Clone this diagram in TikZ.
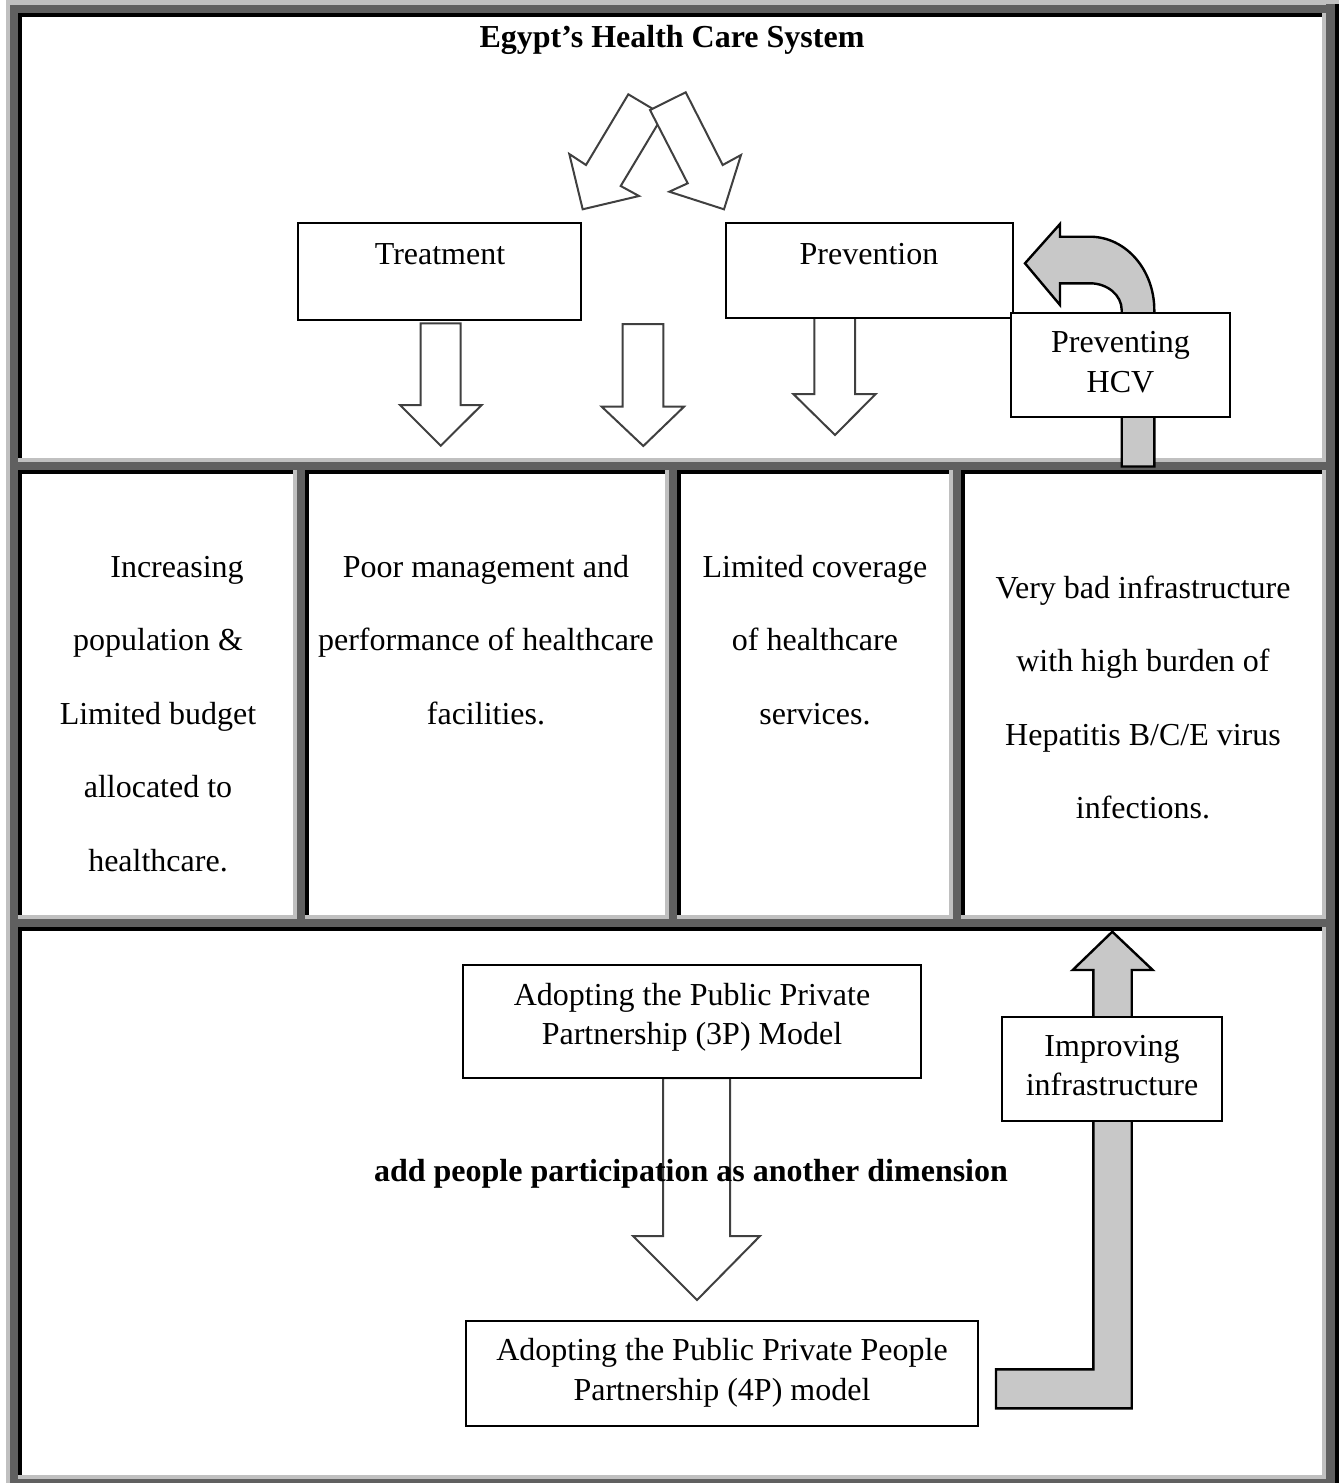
\documentclass[tikz,border=0pt]{standalone}
\usepackage{fontspec}
\setmainfont{Liberation Serif}
\definecolor{bandlight}{RGB}{192,192,192}
\definecolor{banddark}{RGB}{96,96,96}
\definecolor{arrowfill}{RGB}{200,200,200}
\definecolor{arrowline}{RGB}{64,64,64}
% one table cell: dark/black rule on top and left, light rule on right and bottom
\newcommand\cellframe[4]{%
  \fill[banddark] (#1,#2) rectangle (#3,#2+8);
  \fill[banddark] (#1,#2) rectangle (#1+8,#4);
  \fill[bandlight] (#3-4,#2+8) rectangle (#3,#4);
  \fill[bandlight] (#1+8,#4-4) rectangle (#3,#4);
  \fill[black] (#1+8,#2+8) rectangle (#3-4,#2+12);
  \fill[black] (#1+8,#2+8) rectangle (#1+12,#4-4);
}
\begin{document}
\begin{tikzpicture}[x=0.5pt,y=-0.5pt,
  box/.style={draw=black,line width=0.9pt,fill=white,inner sep=0pt},
  txt/.style={inner sep=0pt,anchor=base,align=flush center,font=\fontsize{16pt}{19.5pt}\selectfont},
  celltxt/.style={inner sep=0pt,anchor=base,align=flush center,font=\fontsize{16pt}{36.75pt}\selectfont},
  hollow/.style={draw=arrowline,line width=1pt,fill=white,line join=miter},
  grayarrow/.style={draw=black,line width=1.2pt,fill=arrowfill,line join=miter}]
\useasboundingbox (0,0) rectangle (1341,1483);
\fill[white] (0,0) rectangle (1341,1483);

% outer table frame
\fill[bandlight] (6,0) rectangle (1339,4.5);
\fill[bandlight] (6,0) rectangle (10,1483);
\fill[banddark] (1326,4) rectangle (1335,1483);
\fill[black] (1335,4) rectangle (1339,1483);
\fill[banddark] (10,1479) rectangle (1335,1483);

% cells
\cellframe{10}{4.5}{1326}{462}
\cellframe{10}{462}{297}{919}
\cellframe{297}{462}{669}{919}
\cellframe{669}{462}{953}{919}
\cellframe{953}{462}{1326}{919}
\cellframe{10}{919}{1326}{1479}

% ---------- top row ----------
\node[txt,font=\fontsize{16pt}{19.5pt}\selectfont\bfseries] (title) at (672,47) {Egypt’s Health Care System};

% two crossing arrows
\filldraw[hollow] (628.3,94.3) -- (586,165) -- (569.3,154) -- (582.7,209.3) -- (639,196) -- (620.7,186) -- (663.2,115.1) -- cycle;
\filldraw[hollow] (650,110) -- (685.7,92.3) -- (722.7,165) -- (741,155) -- (724,209.3) -- (669.3,191.7) -- (687.7,183.3) -- cycle;

% downward arrows
\filldraw[hollow] (420.7,323.3) -- (460.7,323.3) -- (460.7,405) -- (481.7,405) -- (440.7,445.7) -- (400,405) -- (420.7,405) -- cycle;
\filldraw[hollow] (622.7,324) -- (663.3,324) -- (663.3,406.7) -- (684,406.7) -- (643.3,446) -- (601.7,406.7) -- (622.7,406.7) -- cycle;
\filldraw[hollow] (814.3,316) -- (855,316) -- (855,394) -- (875.7,394) -- (835,435) -- (793.3,394) -- (814.3,394) -- cycle;

\node[box,minimum width=141.5pt,minimum height=48.5pt] (treat) at (439.5,271.5) {};
\node[box,minimum width=143.5pt,minimum height=47.5pt] (prev) at (869.5,270.5) {};
\node[txt] (treatlbl) at (440,264) {Treatment};
\node[txt] (prevlbl) at (869,264) {Prevention};

% curved arrow back to prevention
\filldraw[grayarrow] (1121.7,466.5) -- (1121.7,310)
  arc[start angle=0,end angle=-90,x radius=31.7,y radius=26.7]
  -- (1060,283.3) -- (1060,305) -- (1025,263.3) -- (1060,224) -- (1060,236.7) -- (1090,236.7)
  arc[start angle=-90,end angle=0,x radius=64.3,y radius=73.3]
  -- (1154.3,466.5) -- cycle;
\node[box,minimum width=109.5pt,minimum height=52pt] (hcv) at (1120.5,365) {};
\node[txt,text width=100pt,font=\fontsize{16pt}{20pt}\selectfont] (hcvlbl) at (1120.5,352) {Preventing\\HCV};

% ---------- middle row ----------
\node[celltxt,text width=130pt] (c1) at (158,577) {\hspace*{19pt}Increasing\\population \&\\Limited budget\\allocated to\\healthcare.};
\node[celltxt,text width=178pt] (c2) at (486,577) {Poor management and\\performance of healthcare\\facilities.};
\node[celltxt,text width=130pt] (c3) at (815,577) {Limited coverage\\of healthcare\\services.};
\node[celltxt,text width=170pt] (c4) at (1143,598) {Very bad infrastructure\\with high burden of\\Hepatitis B/C/E virus\\infections.};

% ---------- bottom row ----------
\filldraw[hollow] (663,1078) -- (730,1078) -- (730,1236) -- (760,1236) -- (697,1300) -- (633,1236) -- (663,1236) -- cycle;
\node[box,minimum width=229pt,minimum height=56.5pt] (p3) at (692,1021.5) {};
\node[txt,text width=220pt] (p3lbl) at (692,1005) {Adopting the Public Private\\Partnership (3P) Model};
\node[txt,font=\fontsize{16pt}{19.5pt}\selectfont\bfseries] (dim) at (691,1181) {add people participation as another dimension};
\node[box,minimum width=256pt,minimum height=52.5pt] (p4) at (722,1373.5) {};
\node[txt,text width=250pt,font=\fontsize{16pt}{20pt}\selectfont] (p4lbl) at (722,1360) {Adopting the Public Private People\\Partnership (4P) model};

% L-shaped arrow up to the infrastructure cell
\filldraw[grayarrow] (996,1369.3) -- (1093.3,1369.3) -- (1093.3,970) -- (1072.7,970) -- (1112.3,931.7) -- (1152.7,970) -- (1131.7,970) -- (1131.7,1408.3) -- (996,1408.3) -- cycle;
\node[box,minimum width=110pt,minimum height=52pt] (infra) at (1112,1069) {};
\node[txt,text width=105pt] (infralbl) at (1112,1056) {Improving\\infrastructure};
\end{tikzpicture}
\end{document}
